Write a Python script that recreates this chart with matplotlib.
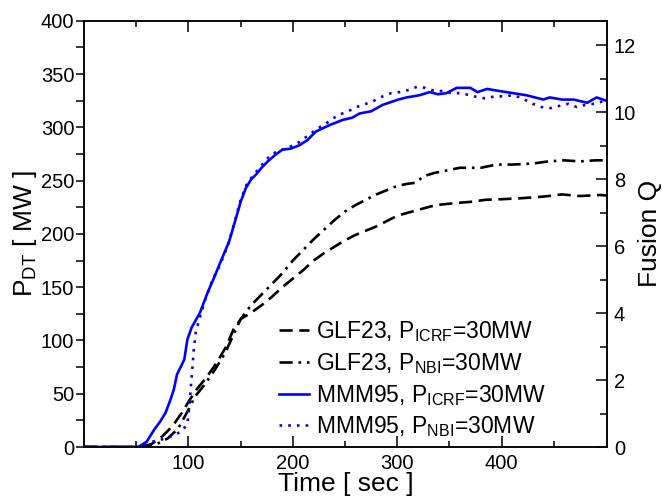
import numpy as np
import matplotlib
matplotlib.use("Agg")
import matplotlib.pyplot as plt

plt.rcParams['font.family'] = ['Liberation Sans', 'DejaVu Sans']
plt.rcParams['mathtext.fontset'] = 'custom'
plt.rcParams['mathtext.rm'] = 'Liberation Sans'

# time [sec] and P_DT [MW]
t_glf_icrf = [0, 55, 65, 75, 85, 95, 101, 107, 117, 127, 136, 143, 150, 160, 170, 180, 190,
              200, 210, 220, 230, 240, 250, 260, 270, 280, 290, 300, 318, 337, 357, 370,
              385, 400, 420, 440, 458, 475, 495, 500]
p_glf_icrf = [0, 0, 3, 10, 20, 34, 44, 53, 65, 79, 94, 110, 120, 126, 133, 141, 150,
              158, 166, 175, 182, 188, 194, 199, 203, 207, 212, 217, 222, 227, 229, 230,
              232, 232.5, 233.5, 235, 237, 235.5, 236.5, 236]

t_glf_nbi = [0, 55, 70, 80, 90, 100, 106, 115, 125, 135, 143, 150, 160, 170, 180, 190,
             200, 210, 220, 230, 240, 250, 260, 270, 280, 290, 300, 310, 318, 325, 335,
             350, 360, 380, 395, 410, 430, 445, 460, 475, 490, 500]
p_glf_nbi = [0, 0, 3, 8, 17, 35, 47, 58, 72, 88, 105, 120, 133, 143, 153, 163,
             175, 185, 195, 204, 213, 221, 227, 232, 237, 241, 245, 247, 248, 254, 257,
             260, 262, 262, 265, 265, 266, 268, 269, 268, 269, 269]

t_mmm_icrf = [0, 52, 60, 67, 73, 78, 83, 86, 89, 93, 96, 99, 103, 111, 118, 125, 130, 139,
              145, 150, 155, 160, 165, 170, 176, 183, 190, 198, 206, 214, 222, 235, 248,
              257, 264, 275, 286, 301, 309, 321, 331, 339, 347, 357, 370, 377, 386, 398,
              411, 424, 440, 446, 458, 469, 482, 491, 500]
p_mmm_icrf = [0, 0, 5, 16, 24, 32, 45, 54, 68, 76, 82, 101, 112, 126, 144, 160, 172, 193,
              213, 230, 243, 251, 256, 262, 268, 274, 279, 280, 283, 288, 296, 302, 307,
              309, 313, 315, 321, 326, 328, 330, 333, 331, 332, 337, 337, 333, 336, 334,
              332, 330, 326, 328, 326, 326, 323, 328, 325]

t_mmm_nbi = [0, 55, 61, 70, 78, 86, 94, 99, 101, 103, 105, 107, 111, 117, 123, 130, 138,
             145, 150, 156, 163, 174, 180, 190, 203, 210, 217, 224, 231, 238, 245, 253,
             261, 270, 278, 286, 294, 302, 311, 319, 327, 336, 344, 352, 361, 370, 378,
             385, 393, 402, 410, 418, 430, 438, 447, 455, 464, 472, 480, 488, 496, 500]
p_mmm_nbi = [0, 0, 4, 6, 8, 11, 15, 22, 40, 65, 90, 108, 122, 141, 157, 170, 190,
             214, 232, 247, 256, 269, 275, 279, 284, 289, 294, 299, 303, 308, 312, 315,
             319, 322, 325, 329, 332, 333, 335, 338, 337, 334, 334, 332, 332, 330, 328,
             327, 329, 329, 330, 328, 322, 319, 318, 320, 322, 319, 321, 322, 324, 324]

labels = [r'GLF23, P$_{\mathregular{ICRF}}$=30MW',
          r'GLF23, P$_{\mathregular{NBI}}$=30MW',
          r'MMM95, P$_{\mathregular{ICRF}}$=30MW',
          r'MMM95, P$_{\mathregular{NBI}}$=30MW']

fig = plt.figure(figsize=(6.62, 4.98), dpi=100)
ax = fig.add_axes([0.127, 0.1024, 0.79, 0.856])

ax.plot(t_glf_icrf, p_glf_icrf, color='black', lw=1.9, dashes=(5, 2.5), label=labels[0])
ax.plot(t_glf_nbi, p_glf_nbi, color='black', lw=1.9, dashes=(5, 2.2, 1, 2.2), label=labels[1])
ax.plot(t_mmm_icrf, p_mmm_icrf, color='#0000ff', lw=1.9, label=labels[2])
ax.plot(t_mmm_nbi, p_mmm_nbi, color='#0000ff', lw=1.9, dashes=(1, 2.3), label=labels[3])

ax.set_xlim(0, 501)
ax.set_ylim(0, 400)
ax.set_xticks([100, 200, 300, 400])
ax.set_xticks(np.arange(50, 500, 50), minor=True)
ax.set_yticks(np.arange(0, 401, 50))
ax.set_yticks(np.arange(25, 400, 50), minor=True)

ax.tick_params(axis='x', which='both', direction='in', top=True, labelsize=14.5, pad=5)
ax.tick_params(axis='x', which='major', length=8, width=1.1)
ax.tick_params(axis='x', which='minor', length=4, width=1.1)
ax.tick_params(axis='y', which='both', direction='out', labelsize=14.5, length=6, width=1.1, pad=1)
for s in ax.spines.values():
    s.set_linewidth(1.1)

ax.set_xlabel('Time [ sec ]', fontsize=19, labelpad=-1)
ax.set_ylabel(r'P$_{\mathregular{DT}}$ [ MW ]', fontsize=19, labelpad=1)

ax2 = ax.twinx()
ax2.set_ylim(0, 12.73)
ax2.set_yticks(np.arange(0, 13, 2))
ax2.set_yticks(np.arange(1, 13, 2), minor=True)
ax2.tick_params(axis='y', which='both', direction='in', labelsize=14.5, width=1.1, pad=5)
ax2.tick_params(axis='y', which='major', length=8)
ax2.tick_params(axis='y', which='minor', length=5)
ax2.set_ylabel('Fusion Q', fontsize=19, labelpad=1)
for s in ax2.spines.values():
    s.set_linewidth(1.1)

ax.legend(loc='upper left', bbox_to_anchor=(0.373, 0.30), frameon=False, fontsize=16.5,
          handlelength=1.3, handletextpad=0.3, labelspacing=0.3, borderaxespad=0, borderpad=0)

fig.savefig('out.png', dpi=100)
